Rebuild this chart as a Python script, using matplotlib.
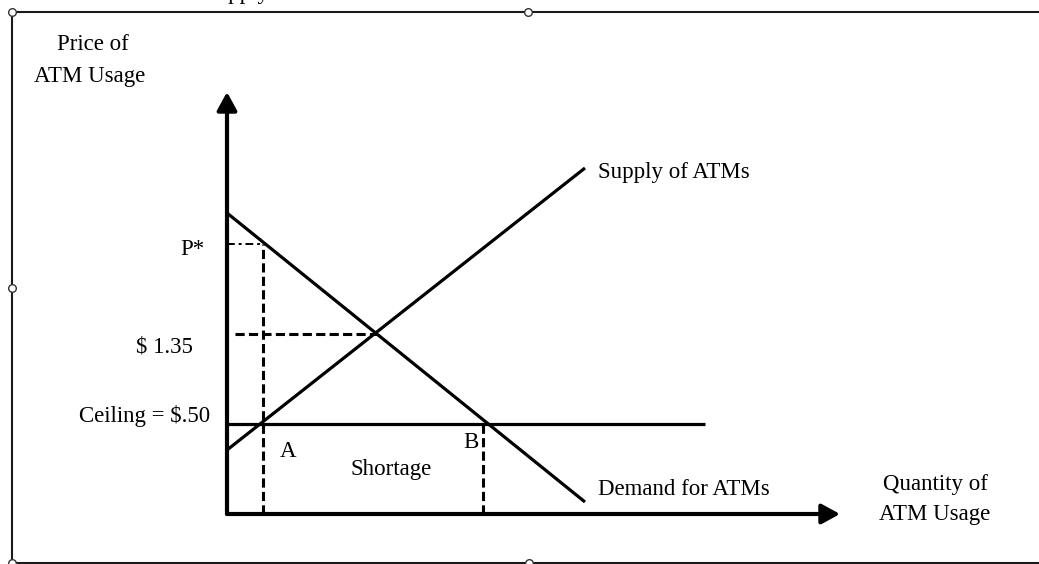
import matplotlib
matplotlib.use("Agg")
import matplotlib.pyplot as plt
from matplotlib.lines import Line2D

plt.rcParams['font.family'] = ['Liberation Serif', 'DejaVu Serif']

# schematic units: quantity on x, price on y
demand_q = [0, 35.8]
demand_p = [30.1, 1.2]
supply_q = [0, 35.8]
supply_p = [6.4, 34.6]
ceiling_p = 9.05
ceiling_q_end = 47.8
eq_q, eq_p = 15.0, 18.0
p_star = 27.0
q_a = 3.6
q_b = 25.6
q_axis_end = 61.3
p_axis_end = 42.2

W, H = 1039, 564
fig = plt.figure(figsize=(W / 100, H / 100), dpi=100)
ax = fig.add_axes([0, 0, 1, 1])
ax.set_xlim(-22.7, 81.2)
ax.set_ylim(-5.0, 51.4)
ax.axis('off')

# axes with arrow heads
arrow = dict(arrowstyle='-|>,head_length=0.55,head_width=0.3', lw=3,
             color='black', shrinkA=0, shrinkB=0, mutation_scale=20)
ax.annotate('', xy=(0, p_axis_end), xytext=(0, 0), arrowprops=arrow)
ax.annotate('', xy=(q_axis_end, 0), xytext=(0, 0), arrowprops=arrow)

# curves
ax.plot(demand_q, demand_p, color='black', lw=2.3, solid_capstyle='butt')
ax.plot(supply_q, supply_p, color='black', lw=2.3, solid_capstyle='butt')
ax.plot([0, ceiling_q_end], [ceiling_p, ceiling_p], color='black', lw=2.3,
        solid_capstyle='butt')

# dashed guides
ax.plot([q_a, q_a], [0, p_star], color='black', lw=2.2, dashes=(3, 1.4))
ax.plot([q_b, q_b], [0, ceiling_p], color='black', lw=2.2, dashes=(3, 1.4))
ax.plot([0.8, eq_q], [eq_p, eq_p], color='black', lw=2.2, dashes=(3, 1.4))
ax.plot([0, q_a], [p_star, p_star], color='black', lw=1.4,
        dashes=(4, 2, 1.5, 2))

fs = 16.5
ax.text(-13.4, 46.4, 'Price of', ha='center', va='baseline', fontsize=fs)
ax.text(-13.7, 43.2, 'ATM Usage', ha='center', va='baseline', fontsize=fs)
ax.text(-2.2, 25.9, 'P*', ha='right', va='baseline', fontsize=fs)
ax.text(-3.4, 16.2, r'\$ 1.35', ha='right', va='baseline', fontsize=fs)
ax.text(-1.7, 9.2, r'Ceiling = \$.50', ha='right', va='baseline', fontsize=fs)
ax.text(5.3, 5.7, 'A', ha='left', va='baseline', fontsize=fs)
ax.text(23.6, 6.6, 'B', ha='left', va='baseline', fontsize=fs)
ax.text(12.3, 3.9, 'Shortage', ha='left', va='baseline', fontsize=fs)
ax.text(37.1, 33.6, 'Supply of ATMs', ha='left', va='baseline', fontsize=fs)
ax.text(37.1, 1.9, 'Demand for ATMs', ha='left', va='baseline', fontsize=fs)
ax.text(70.8, 2.4, 'Quantity of', ha='center', va='baseline', fontsize=fs)
ax.text(70.8, -0.6, 'ATM Usage', ha='center', va='baseline', fontsize=fs)
# caption text above the frame, cut off by the screenshot
ax.text(-2.2, 51.55, 'Supply', ha='left', va='baseline', fontsize=fs)

# drawing frame with selection handles
def fx(px):
    return px / W

def fy(py):
    return 1 - py / H

frame = dict(color='#1a1a1a', lw=1.5, transform=fig.transFigure)
fig.add_artist(Line2D([fx(12), fx(12)], [fy(12), fy(563)], **frame))
fig.add_artist(Line2D([fx(12), 1], [fy(12), fy(12)], **frame))
fig.add_artist(Line2D([fx(12), 1], [fy(563), fy(563)], **frame))
fig.add_artist(Line2D([fx(12), fx(12), fx(528), fx(12), fx(529)],
                      [fy(12), fy(288), fy(12), fy(563), fy(563)],
                      ls='none', marker='o', markersize=5.5,
                      markerfacecolor='white', markeredgecolor='#333333',
                      markeredgewidth=1, transform=fig.transFigure))

fig.savefig('out.png', dpi=100)
